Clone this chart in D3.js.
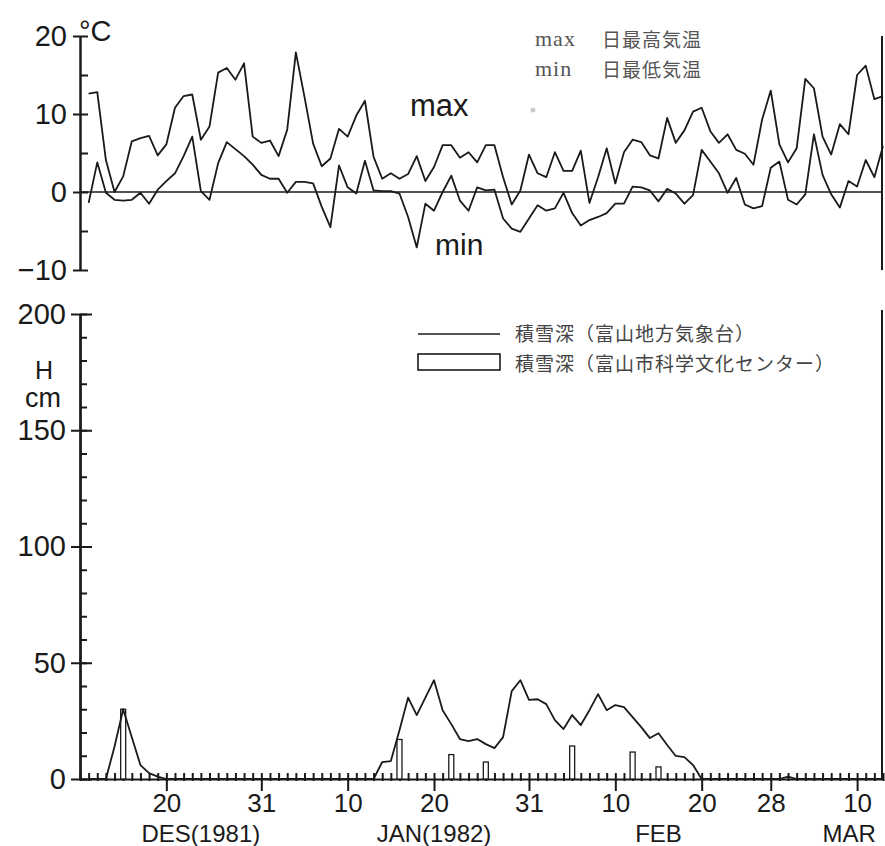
<!DOCTYPE html>
<html>
<head>
<meta charset="utf-8">
<script src="https://cdn.jsdelivr.net/npm/d3@7"></script>
<style>
body { margin: 0; background: #fff; }
svg { display: block; }
</style>
</head>
<body>
<div id="chart"></div>
<script>
// layout constants - change these up here
var width = 885,
    height = 846,
    left = 80,
    right = 883,
    frameX = 882,
    numFont = "'Liberation Sans', Arial, sans-serif",
    jpFont = "'Noto Sans CJK JP', sans-serif",
    ink = "#1a1a1a";

// daily values, first day is Dec 11 1981
var firstDay = "1981-12-11";
var tmax = [12.6, 12.8, 4.1, 0.0, 2.0, 6.5, 6.9, 7.2, 4.7, 6.1,
            10.8, 12.3, 12.5, 6.7, 8.4, 15.3, 15.9, 14.4, 16.5, 7.1,
            6.3, 6.6, 4.6, 8.0, 17.9, 12.2, 6.2, 3.3, 4.3, 8.1,
            7.1, 9.8, 11.7, 4.5, 1.7, 2.4, 1.7, 2.3, 4.6, 1.4,
            3.2, 6.0, 6.0, 4.4, 5.1, 3.8, 6.0, 6.0, 1.9, -1.6,
            0.2, 4.8, 2.4, 1.9, 5.1, 2.7, 2.7, 5.3, -1.4, 1.9,
            5.6, 1.1, 5.1, 6.7, 6.4, 4.7, 4.3, 9.5, 6.3, 7.9,
            10.3, 10.8, 7.8, 6.3, 7.4, 5.4, 4.9, 3.5, 9.3, 13.0,
            6.1, 3.8, 5.6, 14.5, 13.3, 7.1, 4.8, 8.7, 7.4, 15.0,
            16.2, 11.9, 12.3];
var tmin = [-1.4, 3.8, -0.1, -1.0, -1.1, -1.0, -0.1, -1.5, 0.3, 1.4,
            2.4, 4.6, 7.1, 0.1, -1.0, 3.7, 6.4, 5.5, 4.6, 3.5,
            2.2, 1.7, 1.7, -0.1, 1.3, 1.3, 1.1, -1.9, -4.5, 3.4,
            0.6, -0.2, 4.0, 0.2, 0.1, 0.1, -0.2, -3.2, -7.1, -1.5,
            -2.4, 0.0, 2.1, -1.1, -2.4, 0.6, 0.2, 0.3, -3.4, -4.7,
            -5.1, -3.4, -1.7, -2.4, -2.1, -0.1, -2.7, -4.3, -3.6, -3.2,
            -2.7, -1.5, -1.5, 0.7, 0.6, 0.2, -1.2, 0.4, -0.2, -1.5,
            -0.4, 5.4, 3.9, 2.4, -0.1, 1.8, -1.6, -2.1, -1.8, 3.1,
            3.9, -1.0, -1.6, -0.3, 7.4, 2.2, -0.3, -2.0, 1.4, 0.7,
            4.1, 1.9, 5.9];
// snow depth, Toyama local meteorological observatory (cm)
var snowDepth = [0, 0, 0, 14, 30, 18, 6, 2.5, 1, 0,
                 0, 0, 0, 0, 0, 0, 0, 0, 0, 0,
                 0, 0, 0, 0, 0, 0, 0, 0, 0, 0,
                 0, 0, 0, 0, 7.3, 7.7, 21, 35, 27.5, 35,
                 42.5, 29.6, 23.6, 17.2, 16.3, 17.2, 15, 13.3, 18, 37.8,
                 42.5, 34, 34.3, 32.2, 25.3, 21.5, 27.5, 23.2, 29.6, 36.5,
                 29.6, 31.8, 30.9, 26.6, 22.3, 17.6, 19.7, 14.6, 9.9, 9.4,
                 6, 0, 0, 0, 0, 0, 0, 0, 0, 0,
                 0, 1, 0, 0, 0, 0, 0, 0, 0, 0,
                 0, 0, 0];
// snow depth, Toyama science museum (cm)
var barDates = ["1981-12-15", "1982-01-16", "1982-01-22", "1982-01-26", "1982-02-05", "1982-02-12", "1982-02-15"];
var barDepth = [30, 17, 10.5, 7.3, 14.2, 11.6, 5.2];

// tick labels
var axisStart = "1981-12-10", axisEnd = "1982-03-13";
var labelDates = ["1981-12-20", "1981-12-31", "1982-01-10", "1982-01-20", "1982-01-31", "1982-02-10", "1982-02-20", "1982-02-28", "1982-03-10"];
var labelText = ["20", "31", "10", "20", "31", "10", "20", "28", "10"];
var monthDates = ["1981-12-24", "1982-01-20", "1982-02-15", "1982-03-06"];
var monthText = ["DES(1981)", "JAN(1982)", "FEB", "MAR"];
var tempTicks = [-10, 0, 10, 20];
var depthTicks = [0, 50, 100, 150, 200];

var parse = d3.timeParse("%Y-%m-%d");
var day0 = parse(firstDay);
function dayOf(i) { return d3.timeDay.offset(day0, i); }

var x = d3.scaleTime().domain([parse(axisStart), parse(axisEnd)]).range([left, right]);
var yT = d3.scaleLinear().domain([-10, 20]).range([270, 36]);
var yS = d3.scaleLinear().domain([0, 200]).range([779, 314]);

var svg = d3.select("#chart").append("svg")
    .attr("width", width)
    .attr("height", height);

function styleAxis(g, size) {
    g.selectAll("path, line").attr("stroke", ink).attr("stroke-width", 2);
    g.selectAll("text").attr("font-family", numFont).attr("font-size", size || 29).attr("fill", ink);
}

/* ---- temperature panel ---- */
svg.append("line")
    .attr("x1", left).attr("x2", frameX)
    .attr("y1", yT(0)).attr("y2", yT(0))
    .attr("stroke", ink).attr("stroke-width", 1.6);
svg.append("line")
    .attr("x1", frameX).attr("x2", frameX)
    .attr("y1", yT(20)).attr("y2", yT(-10))
    .attr("stroke", ink).attr("stroke-width", 2);

svg.append("g")
    .attr("transform", "translate(" + left + ",0)")
    .call(d3.axisLeft(yT).tickValues(tempTicks).tickSize(7).tickSizeOuter(0).tickPadding(6))
    .call(styleAxis);
svg.append("g")
    .attr("transform", "translate(" + left + ",0)")
    .call(d3.axisRight(yT).tickValues(d3.range(-10, 21, 5)).tickSize(8).tickSizeOuter(0).tickFormat(""))
    .call(styleAxis);

var tline = d3.line()
    .x(function(d, i) { return x(dayOf(i)); })
    .y(function(d) { return yT(d); });
[tmax, tmin].forEach(function(s) {
    svg.append("path").datum(s)
        .attr("d", tline)
        .attr("fill", "none")
        .attr("stroke", ink)
        .attr("stroke-width", 1.8)
        .attr("stroke-linejoin", "round");
});

svg.append("text").attr("x", 79).attr("y", 41)
    .attr("font-family", numFont).attr("font-size", 29).attr("fill", ink).text("°C");
svg.append("text").attr("x", 410).attr("y", 116)
    .attr("font-family", numFont).attr("font-size", 31).attr("fill", ink).text("max");
svg.append("text").attr("x", 435).attr("y", 255)
    .attr("font-family", numFont).attr("font-size", 30).attr("fill", ink).text("min");

// legend top right
var legT = [["max", "日最高気温", 46], ["min", "日最低気温", 76]];
legT.forEach(function(r) {
    svg.append("text").attr("x", 535).attr("y", r[2])
        .attr("font-family", "'Liberation Serif', serif").attr("font-size", 22)
        .attr("letter-spacing", 1).attr("fill", "#555").text(r[0]);
    svg.append("text").attr("x", 602).attr("y", r[2] + 1)
        .attr("font-family", jpFont).attr("font-size", 19)
        .attr("letter-spacing", 1).attr("fill", "#555").text(r[1]);
});
svg.append("circle").attr("cx", 533).attr("cy", 110).attr("r", 2.5).attr("fill", "#ccc");

/* ---- snow panel ---- */
svg.append("line")
    .attr("x1", frameX).attr("x2", frameX)
    .attr("y1", 310).attr("y2", yS(0))
    .attr("stroke", ink).attr("stroke-width", 2);

svg.append("g")
    .attr("transform", "translate(" + left + ",0)")
    .call(d3.axisLeft(yS).tickValues(depthTicks).tickSize(9).tickSizeOuter(0).tickPadding(5))
    .call(styleAxis);
svg.append("g")
    .attr("transform", "translate(" + left + ",0)")
    .call(d3.axisRight(yS).tickValues(d3.range(0, 201, 10)).tickSize(7).tickSizeOuter(0).tickFormat(""))
    .call(styleAxis);
svg.append("g")
    .attr("transform", "translate(" + left + ",0)")
    .call(d3.axisRight(yS).tickValues(depthTicks).tickSize(12).tickSizeOuter(0).tickFormat(""))
    .call(styleAxis);

// daily ticks along the bottom
svg.append("g")
    .attr("transform", "translate(0," + (yS(0) + 2) + ")")
    .call(d3.axisTop(x).ticks(d3.timeDay.every(1)).tickSize(8).tickSizeOuter(0).tickFormat(""))
    .call(styleAxis)
    .select(".domain").remove();
svg.append("g")
    .attr("transform", "translate(0," + yS(0) + ")")
    .call(d3.axisBottom(x).tickValues(labelDates.map(parse)).tickSize(12).tickSizeOuter(0).tickPadding(3)
        .tickFormat(function(d, i) { return labelText[i]; }))
    .call(styleAxis, 26);

svg.selectAll(".month")
    .data(monthText)
    .enter()
    .append("text")
    .attr("x", function(d, i) { return x(parse(monthDates[i])); })
    .attr("y", 842)
    .attr("text-anchor", function(d, i) { return i == 3 ? "start" : "middle"; })
    .attr("font-family", numFont).attr("font-size", 24).attr("fill", ink)
    .text(function(d) { return d; });

// bars
svg.selectAll(".bar")
    .data(barDepth)
    .enter()
    .append("rect")
    .attr("x", function(d, i) { return x(parse(barDates[i])) - 2.5; })
    .attr("width", 5)
    .attr("y", function(d) { return yS(d); })
    .attr("height", function(d) { return yS(0) - yS(d); })
    .attr("fill", "#fff")
    .attr("stroke", ink)
    .attr("stroke-width", 1.3);

svg.append("path").datum(snowDepth)
    .attr("d", d3.line()
        .x(function(d, i) { return x(dayOf(i)); })
        .y(function(d) { return yS(d); }))
    .attr("fill", "none")
    .attr("stroke", ink)
    .attr("stroke-width", 1.8)
    .attr("stroke-linejoin", "round");

svg.append("text").attr("x", 44).attr("y", 379).attr("text-anchor", "middle")
    .attr("font-family", numFont).attr("font-size", 25).attr("fill", ink).text("H");
svg.append("text").attr("x", 43).attr("y", 407).attr("text-anchor", "middle")
    .attr("font-family", numFont).attr("font-size", 27).attr("fill", ink).text("cm");

// legend bottom
svg.append("line").attr("x1", 418).attr("x2", 500).attr("y1", 334).attr("y2", 334)
    .attr("stroke", ink).attr("stroke-width", 1.6);
svg.append("rect").attr("x", 418).attr("y", 354).attr("width", 82).attr("height", 16)
    .attr("fill", "none").attr("stroke", ink).attr("stroke-width", 1.6);
svg.append("text").attr("x", 515).attr("y", 341)
    .attr("font-family", jpFont).attr("font-size", 19).attr("letter-spacing", 1)
    .attr("fill", "#444").text("積雪深（富山地方気象台）");
svg.append("text").attr("x", 515).attr("y", 371)
    .attr("font-family", jpFont).attr("font-size", 19).attr("letter-spacing", 1)
    .attr("fill", "#444").text("積雪深（富山市科学文化センター）");
</script>
</body>
</html>
